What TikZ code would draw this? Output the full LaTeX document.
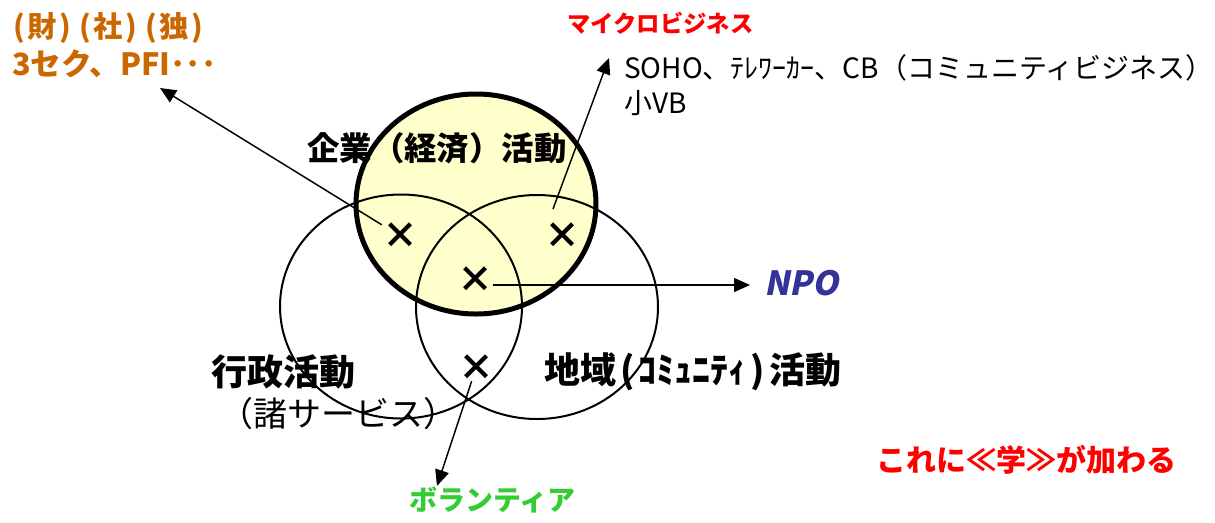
\documentclass[tikz,border=0pt]{standalone}
\usepackage{fontspec}
\setmainfont{Noto Sans CJK JP}
\newfontfamily\slantjp[FakeSlant=0.2]{Noto Sans CJK JP}
\usetikzlibrary{positioning, arrows.meta}
\definecolor{zaiorange}{RGB}{204,102,0}
\definecolor{npoblue}{RGB}{51,51,153}
\definecolor{volgreen}{RGB}{51,204,51}
\definecolor{kigyofill}{RGB}{255,255,204}
\tikzset{
	lbl/.style={inner sep=0pt, anchor=west},
	xmark/.style={inner sep=0pt, font=\bfseries\fontsize{27}{27}\selectfont},
	conn/.style={line width=1.1pt, -{Triangle[length=12pt, width=10.5pt]}},
	ring/.style={line width=1.5pt}
}

\begin{document}
\begin{tikzpicture}[x=0.75pt, y=-0.75pt]
		\useasboundingbox (0, 0) rectangle (1215, 522);
		\filldraw[fill=kigyofill, line width=3.75pt] (476, 204) ellipse [x radius=90pt, y radius=82.5pt];
		\draw[ring] (401, 306.5) ellipse [x radius=90.75pt, y radius=84pt];
		\draw[ring] (537, 307) ellipse [x radius=90.75pt, y radius=84pt];
		\node[lbl, text=zaiorange, font=\bfseries\fontsize{22}{22}\selectfont] (zai) at (13, 28) {(\kern2pt財\kern2pt)\kern6pt(\kern2pt社\kern2pt)\kern6pt(\kern2pt独\kern2pt)};
		\node[lbl, text=zaiorange, font=\bfseries\fontsize{23}{23}\selectfont] (sansec) at (12, 64) {3セク、PFI･･･};
		\node[lbl, text=red, font=\bfseries\fontsize{17.5}{17.5}\selectfont] (micro) at (567, 23) {マイクロビジネス};
		\node[lbl, font=\fontsize{21}{21}\selectfont] (soho) at (624, 68) {SOHO、ﾃﾚﾜｰｶｰ、CB（コミュニティビジネス）};
		\node[lbl, font=\fontsize{21}{21}\selectfont] (shovb) at (624, 103) {小VB};
		\node[lbl, font=\bfseries\fontsize{24.3}{24.3}\selectfont] (kigyo) at (307, 148) {企業（経済）活動};
		\node[lbl, text=npoblue, font=\slantjp\bfseries\fontsize{25}{25}\selectfont] (npo) at (764, 283) {NPO};
		\node[lbl, font=\bfseries\fontsize{27}{27}\selectfont] (gyosei) at (211, 372) {行政活動};
		\node[lbl, font=\fontsize{25.5}{25.5}\selectfont] (shosv) at (219, 414) {（諸サービス）};
		\node[lbl, font=\bfseries\fontsize{27}{27}\selectfont] (chiiki) at (544, 372) {地域\kern3pt(\kern3ptｺﾐｭﾆﾃｨ\kern3pt)\kern3pt活動};
		\node[lbl, text=red, font=\bfseries\fontsize{22.5}{22.5}\selectfont] (gaku) at (876, 460) {これに≪学≫が加わる};
		\node[lbl, text=volgreen, font=\bfseries\fontsize{21}{21}\selectfont] (vol) at (409, 500) {ボランティア};
		\node[xmark] (x1) at (400, 236) {×};
		\node[xmark] (x2) at (562, 236) {×};
		\node[xmark] (x3) at (475, 280) {×};
		\node[xmark] (x4) at (476, 368) {×};
		\coordinate (zaiTip) at (160, 88);
		\coordinate (microFoot) at (553, 209);
		\coordinate (microTip) at (609, 58);
		\coordinate (npoTip) at (750, 285);
		\coordinate (volTip) at (437, 486);
		\draw[conn] (x1) -- (zaiTip);
		\draw[conn] (microFoot) -- (microTip);
		\draw[conn] (x3.east |- npoTip) -- (npoTip);
		\draw[conn] (x4) -- (volTip);
	\end{tikzpicture}
\end{document}
